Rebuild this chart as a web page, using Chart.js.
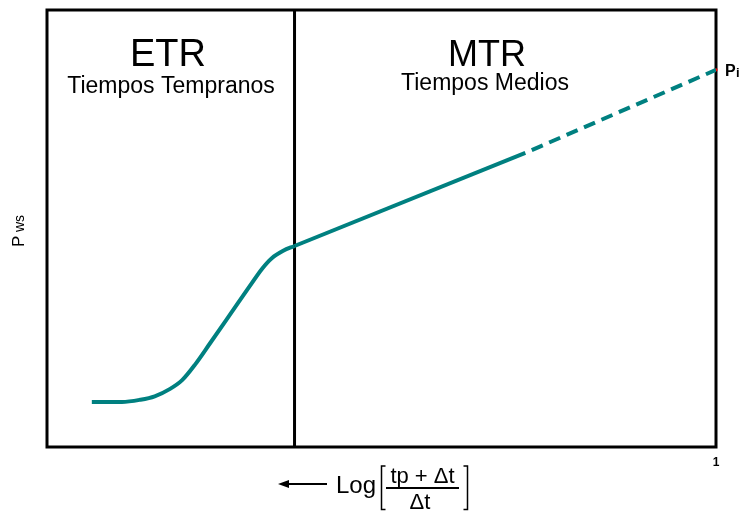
<!DOCTYPE html>
<html lang="es">
<head>
<meta charset="utf-8">
<title>Gráfico de Horner – ETR / MTR</title>
<script src="https://cdn.jsdelivr.net/npm/chart.js@4.4.0/dist/chart.umd.min.js"></script>
<style>
  html, body { margin: 0; padding: 0; background: #ffffff; }
  #grafico { display: block; }
</style>
</head>
<body>
<canvas id="grafico" width="742" height="512"></canvas>
<script>
/* ==========================================================================
   Gráfico de Horner: Pws vs Log[(tp + Δt)/Δt]
   (1) datos, (2) plugin de marco y textos, (3) chart
   ========================================================================== */

/* 1. DATOS (eje x: 0 → 1, eje y: presión relativa 0 → 100) */

// Tiempos tempranos (ETR): curva de almacenamiento
const xETR = [0.067, 0.112, 0.139, 0.161, 0.184, 0.202, 0.221, 0.244, 0.274, 0.303, 0.321, 0.336, 0.353, 0.370];
const pETR = [10.3, 10.3, 10.8, 11.6, 13.3, 15.3, 18.8, 23.8, 30.4, 36.8, 40.7, 43.2, 44.9, 46.0];

// Tiempos medios (MTR): recta semilog
const xMTR = [0.370, 0.715];
const pMTR = [46.0, 67.3];

// Extrapolación (línea discontinua) hasta Pi
const xExtrap = [0.715, 1.0];
const pExtrap = [67.3, 86.3];

// Presión inicial Pi
const xPi = [1.0];
const pPi = [86.3];

// Límite entre regiones y marcas del eje x
const limiteETR = 0.370;
const ticksX = [1];

const TEAL = '#008080';
const FUENTE = '"Liberation Sans", Arial, sans-serif';

const puntos = (xs, ys) => xs.map((x, i) => ({ x: x, y: ys[i] }));


/* 2. PLUGIN: marco negro, línea divisoria y textos */
const marcoYTextos = {
  id: 'marcoYTextos',
  beforeDatasetsDraw(chart) {
    const { ctx, chartArea: a, scales } = chart;
    ctx.save();
    ctx.strokeStyle = '#000';
    ctx.lineWidth = 3;
    ctx.strokeRect(a.left, a.top, a.right - a.left, a.bottom - a.top);
    const xl = scales.x.getPixelForValue(limiteETR);
    ctx.beginPath();
    ctx.moveTo(xl, a.top);
    ctx.lineTo(xl, a.bottom);
    ctx.stroke();
    ctx.restore();
  },
  afterDraw(chart) {
    const ctx = chart.ctx;
    ctx.save();
    ctx.fillStyle = '#000';
    ctx.strokeStyle = '#000';
    ctx.textBaseline = 'alphabetic';

    // regiones
    ctx.textAlign = 'center';
    ctx.font = '38px ' + FUENTE;
    ctx.fillText('ETR', 168, 66);
    ctx.font = '23px ' + FUENTE;
    ctx.fillText('Tiempos Tempranos', 171, 93);
    ctx.font = '36px ' + FUENTE;
    ctx.fillText('MTR', 487, 66);
    ctx.font = '23px ' + FUENTE;
    ctx.fillText('Tiempos Medios', 485, 90);

    // Pi
    ctx.textAlign = 'left';
    ctx.font = 'bold 16px ' + FUENTE;
    ctx.fillText('P', 725, 76);
    ctx.font = 'bold 13px ' + FUENTE;
    ctx.fillText('i', 736, 77);

    // eje y: Pws (girado)
    ctx.save();
    ctx.translate(24, 247);
    ctx.rotate(-Math.PI / 2);
    ctx.font = '17px ' + FUENTE;
    ctx.fillText('P', 0, 0);
    ctx.font = '14px ' + FUENTE;
    ctx.fillText('ws', 15, 0);
    ctx.restore();

    // eje x: ← Log[(tp + Δt)/Δt]
    ctx.lineWidth = 2;
    ctx.beginPath();
    ctx.moveTo(286, 484);
    ctx.lineTo(327, 484);
    ctx.stroke();
    ctx.beginPath();
    ctx.moveTo(278, 484);
    ctx.lineTo(289, 480);
    ctx.lineTo(289, 488);
    ctx.closePath();
    ctx.fill();

    ctx.font = '24px ' + FUENTE;
    ctx.fillText('Log', 336, 493);

    ctx.lineWidth = 1.5;
    ctx.beginPath();
    ctx.moveTo(385.5, 466);
    ctx.lineTo(381.5, 466);
    ctx.lineTo(381.5, 509.5);
    ctx.lineTo(385.5, 509.5);
    ctx.moveTo(463.5, 466);
    ctx.lineTo(467.5, 466);
    ctx.lineTo(467.5, 509.5);
    ctx.lineTo(463.5, 509.5);
    ctx.stroke();

    ctx.textAlign = 'center';
    ctx.font = '22px ' + FUENTE;
    ctx.fillText('tp + \u0394t', 422.5, 483);
    ctx.lineWidth = 2;
    ctx.beginPath();
    ctx.moveTo(386, 488);
    ctx.lineTo(459, 488);
    ctx.stroke();
    ctx.fillText('\u0394t', 420, 509);

    ctx.restore();
  },
};


/* 3. CHART */
new Chart(document.getElementById('grafico'), {
  type: 'line',
  data: {
    datasets: [
      {
        label: 'ETR',
        data: puntos(xETR, pETR),
        borderColor: TEAL,
        borderWidth: 4,
        pointRadius: 0,
        cubicInterpolationMode: 'monotone',
      },
      {
        label: 'MTR',
        data: puntos(xMTR, pMTR),
        borderColor: TEAL,
        borderWidth: 4,
        pointRadius: 0,
      },
      {
        label: 'Extrapolación',
        data: puntos(xExtrap, pExtrap),
        borderColor: TEAL,
        borderWidth: 4,
        borderDash: [12, 7],
        borderDashOffset: 12,
        pointRadius: 0,
      },
      {
        label: 'Pi',
        data: puntos(xPi, pPi),
        showLine: false,
        pointStyle: 'rect',
        pointRadius: 2,
        pointBorderWidth: 0,
        pointBackgroundColor: '#ff0000',
        clip: false,
      },
    ],
  },
  options: {
    responsive: false,
    animation: false,
    layout: { padding: { left: 47, right: 26, top: 10, bottom: 0 } },
    plugins: {
      legend: { display: false },
      tooltip: { enabled: false },
    },
    scales: {
      x: {
        type: 'linear',
        min: 0,
        max: 1,
        grid: { display: false },
        border: { display: false },
        afterBuildTicks: (s) => { s.ticks = ticksX.map((v) => ({ value: v })); },
        afterFit: (s) => { s.height = 65; },
        ticks: {
          color: '#000',
          padding: 0,
          maxRotation: 0,
          autoSkip: false,
          font: { family: FUENTE, size: 12, weight: 'bold' },
        },
      },
      y: { display: false, min: 0, max: 100 },
    },
  },
  plugins: [marcoYTextos],
});
</script>
</body>
</html>
